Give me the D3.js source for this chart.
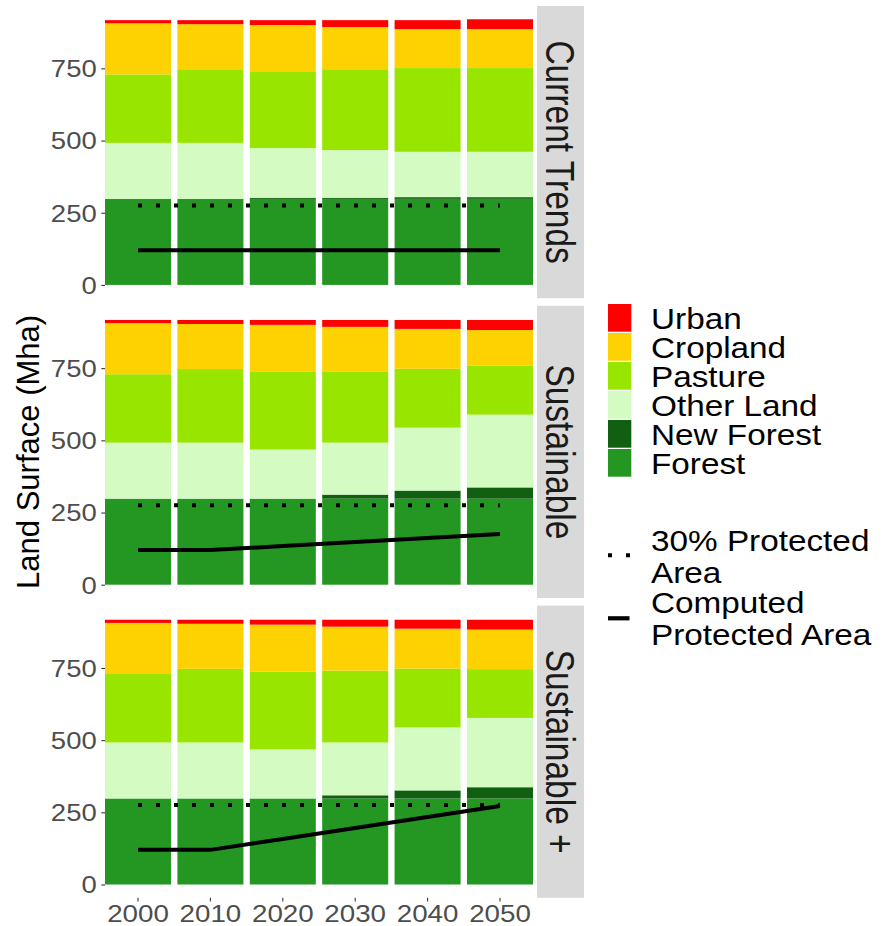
<!DOCTYPE html>
<html>
<head>
<meta charset="utf-8">
<script src="https://cdn.jsdelivr.net/npm/d3@7"></script>
<style>
  html, body { margin: 0; padding: 0; background: #ffffff; }
  svg { display: block; }
</style>
</head>
<body>
<script>
// Land use by scenario (Mha), stacked bottom to top in the order of landTypes
const years = [2000, 2010, 2020, 2030, 2040, 2050];
const landTypes = ["Forest", "New Forest", "Other Land", "Pasture", "Cropland", "Urban"];
const landColors = ["#249723", "#116011", "#D4FCC2", "#98E600", "#FDD200", "#FF0000"];
const scenarios = ["Current Trends", "Sustainable", "Sustainable +"];
const yTicks = [0, 250, 500, 750];

// rows follow landTypes, columns follow years
const currentTrends = [
  [298, 298, 298, 298, 298, 298],
  [0, 0, 4, 4, 6, 6],
  [194, 194, 172, 165, 157, 157],
  [237, 255, 266, 280, 290, 290],
  [177, 156, 160, 146, 135, 135],
  [11, 14, 17, 24, 31, 34]
];
const sustainable = [
  [298, 298, 298, 298, 298, 298],
  [0, 0, 0, 14, 28, 39],
  [194, 194, 170, 180, 218, 252],
  [237, 255, 269, 245, 204, 169],
  [177, 156, 163, 156, 138, 124],
  [11, 14, 17, 24, 31, 35]
];
const sustainablePlus = [
  [298, 298, 298, 298, 298, 298],
  [0, 0, 0, 11, 28, 39],
  [194, 194, 170, 183, 218, 240],
  [237, 255, 270, 249, 204, 169],
  [177, 156, 162, 152, 138, 137],
  [11, 14, 17, 24, 31, 34]
];

// protected area targets and computed protected area (Mha)
const target30 = [275, 275, 275, 275, 275, 275];
const computedCurrent = [120, 120, 120, 120, 120, 120];
const computedSustainable = [120, 120, 134, 148, 162, 176];
const computedSustainablePlus = [120, 120, 158, 196, 234, 272];

const scenarioLand = [currentTrends, sustainable, sustainablePlus];
const scenarioComputed = [computedCurrent, computedSustainable, computedSustainablePlus];

// ---- layout ----
const W = 890, H = 926;
const panelLeft = 105, panelRight = 533;
const panelTops = [6, 305.8, 605.6];
const panelH = 292.2;
const stripX = 537, stripW = 47;
const FONT = "'Liberation Sans', Arial, Helvetica, sans-serif";

const svg = d3.select("body").append("svg")
  .attr("width", W).attr("height", H)
  .style("font-family", FONT);

const x = d3.scaleBand().domain(years).range([panelLeft, panelRight])
  .paddingInner(0.088).paddingOuter(0);
const xc = yr => x(yr) + x.bandwidth() / 2;

// one shared y range for all facets, padded 5% each side
const rowsFor = land => years.map((yr, j) => {
  const row = { year: yr };
  landTypes.forEach((k, i) => { row[k] = land[i][j]; });
  return row;
});
const allTotals = scenarioLand.flatMap(land => years.map((_, j) => d3.sum(land, r => r[j])));
const maxTotal = d3.max(allTotals);
const yDomain = [-0.05 * maxTotal, 1.05 * maxTotal];

const color = d3.scaleOrdinal().domain(landTypes).range(landColors);
const stack = d3.stack().keys(landTypes);

// horizontally widened text helper
function wideText(parent, str, tx, ty, size, kx, anchor, fill) {
  return parent.append("text")
    .attr("transform", `translate(${tx},${ty}) scale(${kx},1)`)
    .attr("text-anchor", anchor)
    .attr("font-size", size)
    .attr("fill", fill)
    .text(str);
}

scenarios.forEach((name, i) => {
  const g = svg.append("g").attr("transform", `translate(0,${panelTops[i]})`);
  const y = d3.scaleLinear().domain(yDomain).range([panelH, 0]);
  const series = stack(rowsFor(scenarioLand[i]));

  // stacked bars
  g.append("g").selectAll("g").data(series).join("g")
    .attr("fill", s => color(s.key))
    .selectAll("rect").data(s => s).join("rect")
      .attr("x", d => x(d.data.year))
      .attr("width", x.bandwidth())
      .attr("y", d => y(d[1]))
      .attr("height", d => Math.max(0, y(d[0]) - y(d[1])));

  // 30% protected target (dotted)
  const line = d3.line().x((v, j) => xc(years[j])).y(v => y(v));
  g.append("path").datum(target30)
    .attr("d", line)
    .attr("fill", "none").attr("stroke", "#000")
    .attr("stroke-width", 4).attr("stroke-dasharray", "4,14")
    .attr("stroke-linecap", "butt");

  // computed protected area (solid)
  g.append("path").datum(scenarioComputed[i])
    .attr("d", line)
    .attr("fill", "none").attr("stroke", "#000")
    .attr("stroke-width", 4).attr("stroke-linejoin", "round")
    .attr("stroke-linecap", "butt");

  // y axis
  const ya = g.append("g").attr("transform", `translate(${panelLeft},0)`)
    .call(d3.axisLeft(y).tickValues(yTicks).tickSize(3.7).tickFormat(d3.format("d")));
  ya.select(".domain").remove();
  ya.selectAll(".tick line").attr("stroke", "#333333").attr("stroke-width", 1.07);
  ya.selectAll(".tick text").remove();
  ya.selectAll(".tick").each(function(d) {
    wideText(d3.select(this), String(d), -8.3, 8.3, 23.5, 1.17, "end", "#4D4D4D");
  });

  // facet strip
  g.append("rect").attr("x", stripX).attr("y", 0)
    .attr("width", stripW).attr("height", panelH).attr("fill", "#D9D9D9");
  g.append("text")
    .attr("transform", `translate(546,${panelH / 2}) rotate(90) scale(1,1.21)`)
    .attr("text-anchor", "middle")
    .attr("font-size", 33.5)
    .attr("fill", "#1A1A1A")
    .text(name);

  // x axis on the bottom facet only
  if (i === scenarios.length - 1) {
    const xa = g.append("g").attr("transform", `translate(0,${panelH})`)
      .call(d3.axisBottom(x).tickSize(3.7));
    xa.select(".domain").remove();
    xa.selectAll(".tick line").attr("stroke", "#333333").attr("stroke-width", 1.07);
    xa.selectAll(".tick text").remove();
    xa.selectAll(".tick").each(function(d) {
      wideText(d3.select(this), String(d), 0, 23.9, 23.5, 1.18, "middle", "#4D4D4D");
    });
  }
});

// y axis title
svg.append("text")
  .attr("transform", `translate(38.5,${panelTops[0] + (panelTops[2] + panelH - panelTops[0]) / 2}) rotate(-90)`)
  .attr("text-anchor", "middle")
  .attr("font-size", 31)
  .attr("fill", "#000")
  .text("Land Surface (Mha)");

// ---- legend: land types ----
const legend = svg.append("g");
const legendOrder = landTypes.slice().reverse();
legendOrder.forEach((k, r) => {
  const top = 304 + r * 29.0;
  legend.append("rect")
    .attr("x", 608).attr("y", top)
    .attr("width", 23.3).attr("height", 27.7)
    .attr("fill", color(k));
  wideText(legend, k, 651, top + 25, 30, 1.11, "start", "#000");
});

// ---- legend: protected area lines ----
legend.append("line")
  .attr("x1", 608).attr("x2", 631).attr("y1", 555.3).attr("y2", 555.3)
  .attr("stroke", "#000").attr("stroke-width", 4).attr("stroke-dasharray", "4,14");
wideText(legend, "30% Protected", 651, 550.7, 30, 1.11, "start", "#000");
wideText(legend, "Area", 651, 583.3, 30, 1.11, "start", "#000");

legend.append("line")
  .attr("x1", 608).attr("x2", 629.5).attr("y1", 618.3).attr("y2", 618.3)
  .attr("stroke", "#000").attr("stroke-width", 4.2);
wideText(legend, "Computed", 651, 612.7, 30, 1.11, "start", "#000");
wideText(legend, "Protected Area", 651, 645, 30, 1.11, "start", "#000");
</script>
</body>
</html>
